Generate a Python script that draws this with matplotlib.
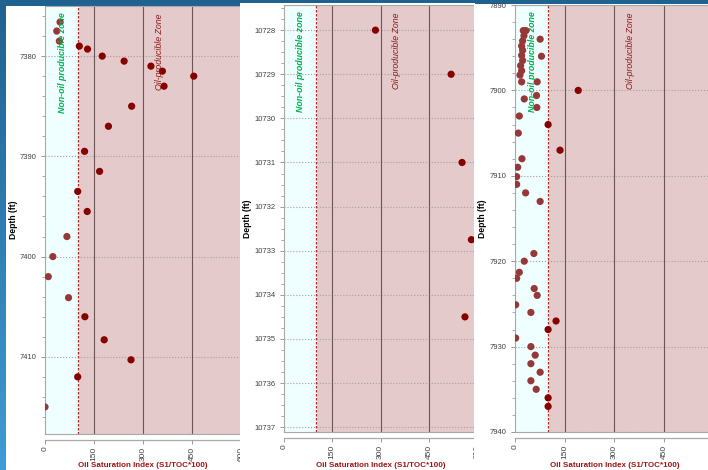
import numpy as np
import matplotlib
matplotlib.use("Agg")
import matplotlib.pyplot as plt
from matplotlib.patches import Rectangle
from matplotlib.ticker import MultipleLocator, AutoMinorLocator
from matplotlib.colors import LinearSegmentedColormap
import matplotlib.transforms as mtrans

plt.rcParams['font.family'] = ['Liberation Sans', 'DejaVu Sans']

# ---- data ----
depth_1 = [7376.6, 7377.5, 7378.5, 7379.0, 7379.3, 7380.0, 7380.5, 7381.0, 7381.5,
           7383.0, 7382.0, 7385.0, 7387.0, 7389.5, 7391.5, 7393.5, 7395.5, 7398.0,
           7400.0, 7402.0, 7404.1, 7406.0, 7408.3, 7410.3, 7412.0, 7415.0]
osi_1 = [46, 36, 44, 105, 130, 175, 242, 324, 359,
         364, 455, 265, 194, 121, 167, 100, 129, 67,
         24, 10, 72, 122, 181, 263, 100, 0]

depth_2 = [10728.0, 10729.0, 10731.0, 10732.75, 10734.5]
osi_2 = [284, 519, 553, 582, 562]

depth_3 = [7893.0, 7893.0, 7893.6, 7894.2, 7894.8, 7895.3, 7895.9, 7896.5, 7897.1,
           7897.7, 7898.2, 7899.0, 7894.0, 7896.0, 7899.0, 7900.6, 7901.0, 7902.0,
           7903.0, 7904.0, 7905.0, 7907.0, 7908.0, 7909.0, 7910.1, 7911.0, 7912.0,
           7913.0, 7900.0,
           7919.1, 7920.0, 7921.3, 7922.0, 7923.2, 7924.0, 7925.1, 7926.0, 7927.0,
           7928.0, 7929.0, 7930.0, 7931.0, 7932.0, 7933.0, 7934.0, 7935.0, 7936.0,
           7937.0]
osi_3 = [25, 33, 27, 23, 20, 23, 20, 23, 17,
         20, 15, 20, 76, 80, 67, 65, 28, 66,
         13, 100, 10, 136, 21, 8, 5, 5, 32,
         76, 191,
         57, 28, 13, 5, 58, 67, 2, 48, 124,
         100, 2, 48, 61, 48, 76, 48, 64, 100,
         100]

cutoff = 100
vgrid = [150, 300, 450]
xticks_full = [0, 150, 300, 450, 600]
xticks_cut = [0, 150, 300, 450]

W, H = 708, 470
fig = plt.figure(figsize=(W / 100, H / 100), dpi=100)


def rect(l, t, r, b):
    return [l / W, 1 - b / H, (r - l) / W, (b - t) / H]


# blue desktop-like background
bg = fig.add_axes([0, 0, 1, 1])
grad = np.linspace(0, 1, 256).reshape(-1, 1)
cmap = LinearSegmentedColormap.from_list("bluebg", ["#1f628f", "#3f9bd6"])
bg.imshow(grad, aspect="auto", cmap=cmap, extent=[0, 1, 0, 1])
bg.axis("off")
bg.set_zorder(0)

panels = [
    dict(box=(6, 6, 240, 470), ax=(45, 6, 45 + 600 * 0.327, 434), ylim=(7417.7, 7375.0),
         step=10, minor=5, ticks=xticks_full, lab=27, d=depth_1, x=osi_1),
    dict(box=(240, 3, 475, 470), ax=(284, 5, 284 + 600 * 0.322, 432), ylim=(10737.11, 10727.43),
         step=1, minor=4, ticks=xticks_full, lab=32, d=depth_2, x=osi_2),
    dict(box=(474, 4, 708, 470), ax=(515, 5, 515 + 600 * 0.331, 432), ylim=(7940, 7890),
         step=10, minor=5, ticks=xticks_cut, lab=28, d=depth_3, x=osi_3),
]

for i, p in enumerate(panels):
    l, t, r, b = p["box"]
    fig.add_artist(Rectangle((l / W, 1 - b / H), (r - l) / W, (b - t) / H,
                             transform=fig.transFigure, facecolor="white",
                             edgecolor="none", zorder=2 * i + 1))

    ax = fig.add_axes(rect(*p["ax"]))
    ax.set_zorder(2 * i + 2)
    ax.set_facecolor("#e4caca")
    ax.set_xlim(0, 600)
    ax.set_ylim(*p["ylim"])

    ax.axvspan(0, cutoff, color="#effefe", zorder=0)
    for g in vgrid:
        ax.axvline(g, color="#6a5656", lw=0.8, zorder=1)
    ax.axvline(cutoff, color="#b82828", lw=0.9, ls=(0, (2, 1.2)), zorder=2)

    ax.yaxis.set_major_locator(MultipleLocator(p["step"]))
    ax.yaxis.set_minor_locator(AutoMinorLocator(p["minor"]))
    ax.set_xticks(p["ticks"])
    ax.grid(axis="y", which="major", color="#a8a0a0", ls=":", lw=0.8)
    ax.set_axisbelow(True)

    cols = ["#963838" if v < cutoff - 2 else "#870000" for v in p["x"]]
    ax.scatter(p["x"], p["d"], s=27, c=cols, edgecolors="none", zorder=3)

    tr = mtrans.blended_transform_factory(ax.transData, ax.transAxes)
    ax.text(52, 0.986, "Non-oil producible zone", transform=tr, rotation=90,
            ha="center", va="top", color="#00b050", fontsize=6.4,
            fontweight="bold", fontstyle="italic", zorder=4)
    ax.text(350, 0.982, "Oil-producible Zone", transform=tr, rotation=90,
            ha="center", va="top", color="#8b1a1a", fontsize=6.3,
            fontstyle="italic", zorder=4)

    for s in ["left", "top", "right"]:
        ax.spines[s].set_color("#a8a8a8")
        ax.spines[s].set_linewidth(0.8)
    ax.spines["bottom"].set_position(("outward", 4))
    ax.spines["bottom"].set_color("#a8a8a8")
    ax.spines["bottom"].set_linewidth(0.9)
    ax.plot([0, 1], [0, 0], transform=ax.transAxes, color="#a8a8a8", lw=0.8,
            clip_on=False, zorder=5)

    ax.tick_params(axis="y", which="both", direction="out", color="#888888",
                   labelsize=5.5, labelcolor="#404040", pad=3)
    ax.tick_params(axis="y", which="major", length=3, width=0.6)
    ax.tick_params(axis="y", which="minor", length=2, width=0.5)
    ax.tick_params(axis="x", direction="out", length=3, width=0.6, color="#888888",
                   labelsize=6, labelcolor="#404040", labelrotation=90, pad=2)
    ax.set_yticklabels(["{:.0f}".format(v) for v in ax.get_yticks()])

    width_px = p["ax"][2] - p["ax"][0]
    ax.set_ylabel("Depth (ft)", fontsize=6.2, fontweight="bold", color="black")
    ax.yaxis.set_label_coords(-p["lab"] / width_px, 0.5)
    ax.set_xlabel("Oil Saturation Index (S1/TOC*100)", fontsize=5.8, fontweight="bold",
                  color="#a01414")
    ax.xaxis.set_label_coords(0.5, -(462 - p["ax"][3]) / (p["ax"][3] - p["ax"][1]))

# thin blue band across the top, drawn above the panels
top = fig.add_axes(rect(0, 0, W, 3))
top.set_zorder(20)
top.imshow(np.zeros((1, 2)), aspect="auto",
           cmap=LinearSegmentedColormap.from_list("t", ["#1f628f", "#1f628f"]))
top.axis("off")

fig.savefig("out.png", dpi=100)
